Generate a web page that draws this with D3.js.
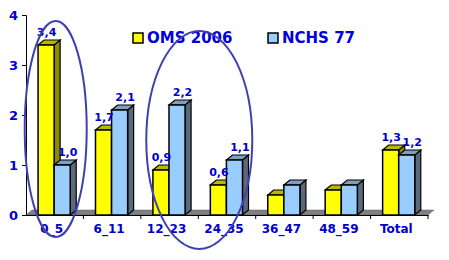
<!DOCTYPE html>
<html>
<head>
<meta charset="utf-8">
<script src="https://cdn.jsdelivr.net/npm/d3@7"></script>
<style>
  body { margin: 0; background: #fff; }
  text { font-family: "DejaVu Sans", Verdana, sans-serif; font-weight: bold; }
</style>
</head>
<body>
<div id="container"></div>
<script>
const width = 449;
const height = 260;

// data
const categories = ["0_5", "6_11", "12_23", "24_35", "36_47", "48_59", "Total"];
const series = ["OMS 2006", "NCHS 77"];
const oms = [3.4, 1.7, 0.9, 0.6, 0.4, 0.5, 1.3];
const nchs = [1.0, 2.1, 2.2, 1.1, 0.6, 0.6, 1.2];
const labelled = ["0_5", "6_11", "12_23", "24_35", "Total"];
const yTicks = [0, 1, 2, 3, 4];

const front = ["#ffff00", "#99ccff"];
const side = ["#8c8c00", "#5a6a7a"];
const topc = ["#b8b800", "#7f9fbf"];
const txt = "#0000cc";
const dx = 6, dy = 5;

const rows = categories.map((c, i) => ({ cat: c, vals: [oms[i], nchs[i]] }));

const xScale = d3.scaleBand().domain(categories).range([26, 428]).padding(0);
const bw = xScale.bandwidth();
const x1 = d3.scaleBand().domain(series).range([bw * 0.21, bw * 0.77]);
const yScale = d3.scaleLinear().domain([0, 4]).range([215, 15]);

const svg = d3.select("#container").append("svg")
    .attr("width", width)
    .attr("height", height);

// floor
svg.append("path")
    .attr("d", `M${xScale.range()[0]},${yScale(0)} L${xScale.range()[0] + dx},${yScale(0) - dy} L${xScale.range()[1] + dx},${yScale(0) - dy} L${xScale.range()[1]},${yScale(0)} Z`)
    .attr("fill", "#808080")
    .attr("stroke", "#606060")
    .attr("stroke-width", 0.5);

// y axis
const yaxis = d3.axisLeft(yScale).tickValues(yTicks).tickFormat(d3.format("d")).tickSize(4);
const gy = svg.append("g").attr("transform", "translate(26,0)").call(yaxis);
gy.select(".domain").attr("stroke", "#000");
gy.selectAll("text").attr("fill", txt).style("font-size", "13px").attr("x", -8);

// x axis
const xaxis = d3.axisBottom(xScale).tickSize(0).tickPadding(9);
const gx = svg.append("g").attr("transform", `translate(0,${yScale(0)})`).call(xaxis);
gx.select(".domain").attr("stroke", "#000");
gx.selectAll("text").attr("fill", txt).style("font-size", "12px").attr("dx", -3);
svg.append("g").selectAll("line")
    .data(categories.slice(1).map(c => xScale(c)).concat([xScale.range()[1]]))
    .enter().append("line")
    .attr("x1", d => d).attr("x2", d => d)
    .attr("y1", yScale(0)).attr("y2", yScale(0) + 4)
    .attr("stroke", "#000");

// bars
const groups = svg.selectAll(".grp")
    .data(rows)
    .enter().append("g")
    .attr("class", "grp")
    .attr("transform", d => `translate(${xScale(d.cat)},0)`);

const bars = groups.selectAll(".bar")
    .data(d => d.vals.map((v, j) => ({ v: v, j: j, cat: d.cat })))
    .enter().append("g")
    .attr("class", "bar");

bars.append("path") // side
    .attr("d", d => {
        const x0 = x1(series[d.j]) + x1.bandwidth(), y0 = yScale(d.v), yb = yScale(0);
        return `M${x0},${y0} L${x0 + dx},${y0 - dy} L${x0 + dx},${yb - dy} L${x0},${yb} Z`;
    })
    .attr("fill", d => side[d.j]).attr("stroke", "#000").attr("stroke-width", 1.2);

bars.append("path") // top
    .attr("d", d => {
        const xa = x1(series[d.j]), xb = xa + x1.bandwidth(), y0 = yScale(d.v);
        return `M${xa},${y0} L${xa + dx},${y0 - dy} L${xb + dx},${y0 - dy} L${xb},${y0} Z`;
    })
    .attr("fill", d => topc[d.j]).attr("stroke", "#000").attr("stroke-width", 1.2);

bars.append("rect") // front
    .attr("x", d => x1(series[d.j]))
    .attr("y", d => yScale(d.v))
    .attr("width", x1.bandwidth())
    .attr("height", d => yScale(0) - yScale(d.v))
    .attr("fill", d => front[d.j]).attr("stroke", "#000").attr("stroke-width", 1.5);

// value labels drawn over all bars
svg.append("g").selectAll("text")
    .data(rows.filter(r => labelled.includes(r.cat))
        .flatMap(r => r.vals.map((v, j) => ({ v: v, j: j, cat: r.cat }))))
    .enter().append("text")
    .attr("x", d => xScale(d.cat) + x1(series[d.j]) + x1.bandwidth() / 2 + 0.5 + d.j * 5)
    .attr("y", d => yScale(d.v) - dy - 4)
    .attr("text-anchor", "middle")
    .attr("fill", txt)
    .style("font-size", "11px")
    .text(d => d.v.toFixed(1).replace(".", ","));

// legend
const legend = svg.append("g").selectAll("g")
    .data(series)
    .enter().append("g")
    .attr("transform", (d, i) => `translate(${133 + i * 135},33)`);
legend.append("rect")
    .attr("width", 10).attr("height", 10)
    .attr("fill", (d, i) => front[i]).attr("stroke", "#000").attr("stroke-width", 1.5);
legend.append("text")
    .attr("x", 14).attr("y", 10)
    .attr("fill", "#0000dd")
    .style("font-size", "15px")
    .text(d => d);

// highlight ellipses: [first category, last category, cy, rx, ry]
const marks = [["0_5", "0_5", 129, 31, 108], ["12_23", "24_35", 140, 53, 109]];
svg.append("g").selectAll("ellipse")
    .data(marks)
    .enter().append("ellipse")
    .attr("cx", d => (xScale(d[0]) + xScale(d[1]) + bw) / 2 + 1)
    .attr("cy", d => d[2])
    .attr("rx", d => d[3])
    .attr("ry", d => d[4])
    .attr("fill", "none")
    .attr("stroke", "#4040b0")
    .attr("stroke-width", 2);
</script>
</body>
</html>
